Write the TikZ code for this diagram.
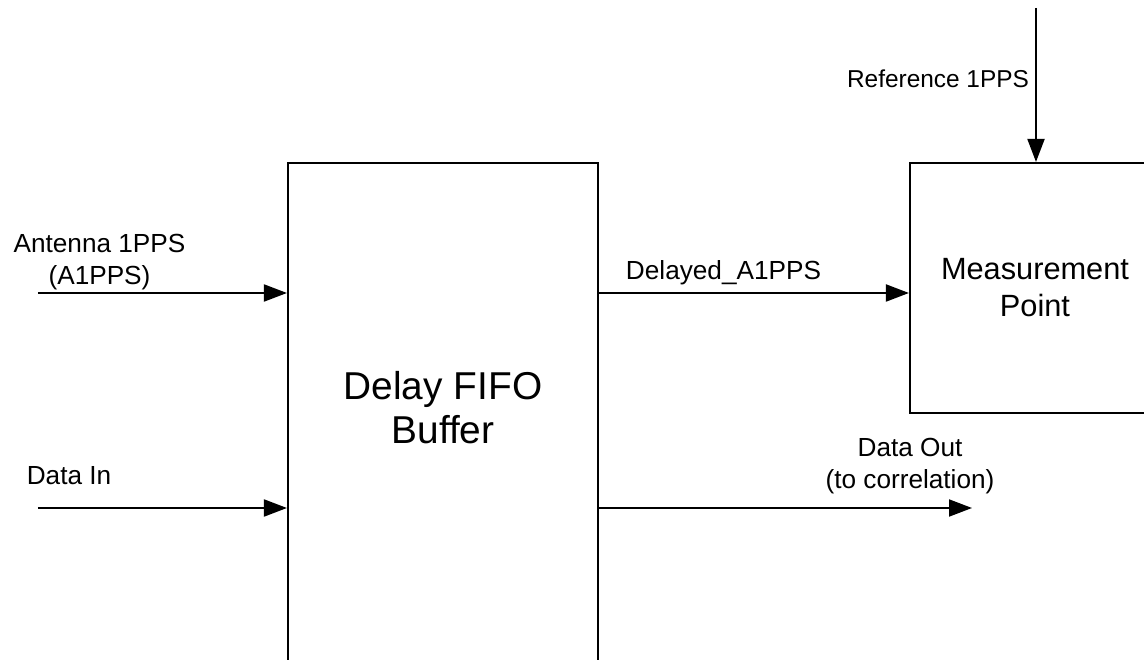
\documentclass[tikz,border=0pt]{standalone}
\usepackage{fontspec}
\setmainfont{Liberation Sans}
\usetikzlibrary{positioning,arrows.meta}

\begin{document}
\begin{tikzpicture}[
  font=\fontsize{14.9}{18.1}\selectfont,
  blk/.style={draw=black, line width=1.2pt, minimum width=#1, align=center, inner sep=0pt},
  sig/.style={-{Triangle[length=0.46cm, width=0.34cm]}, line width=1.1pt},
  lbl/.style={align=center, inner sep=0pt},
]
  \path[use as bounding box, clip] (0,0) rectangle (22.88,-13.2);

  % blocks
  \node[blk=6.2cm, minimum height=10.08cm] (fifo) at (8.86,-8.30) {};
  \node[lbl, font=\fontsize{22.1}{25}\selectfont] (fifotxt)
    at ([yshift=0.14cm]fifo.center) {Delay FIFO\\Buffer};
  \node[blk=5cm, minimum height=5cm, font=\fontsize{17.5}{21}\selectfont]
    (meas) at (20.7,-5.76) {Measurement\\Point};

  % free ends
  \coordinate (antin)  at (0.76,-5.86);
  \coordinate (datain) at (0.76,-10.16);
  \coordinate (dataout) at (19.44,-10.16);
  \coordinate (refin)  at (20.72,-0.16);

  % labels
  \node[lbl] (antlbl)  at (1.99,-5.24)  {Antenna 1PPS\\(A1PPS)};
  \node[lbl] (dinlbl)  at (1.38,-9.52)  {Data In};
  \node[lbl] (dlylbl)  at (14.47,-5.45) {Delayed\_A1PPS};
  \node[lbl] (doutlbl) at (18.2,-9.32)  {Data Out\\(to correlation)};
  \node[lbl, font=\fontsize{13.9}{16}\selectfont] (reflbl) at (18.76,-1.57) {Reference 1PPS};

  % signals
  \draw[sig] (antin) -- (antin -| fifo.west);
  \draw[sig] (datain) -- (datain -| fifo.west);
  \draw[sig] (fifo.east |- antin) -- (antin -| meas.west);
  \draw[sig] (fifo.east |- datain) -- (dataout);
  \draw[sig] (refin) -- (refin |- meas.north);
\end{tikzpicture}
\end{document}
